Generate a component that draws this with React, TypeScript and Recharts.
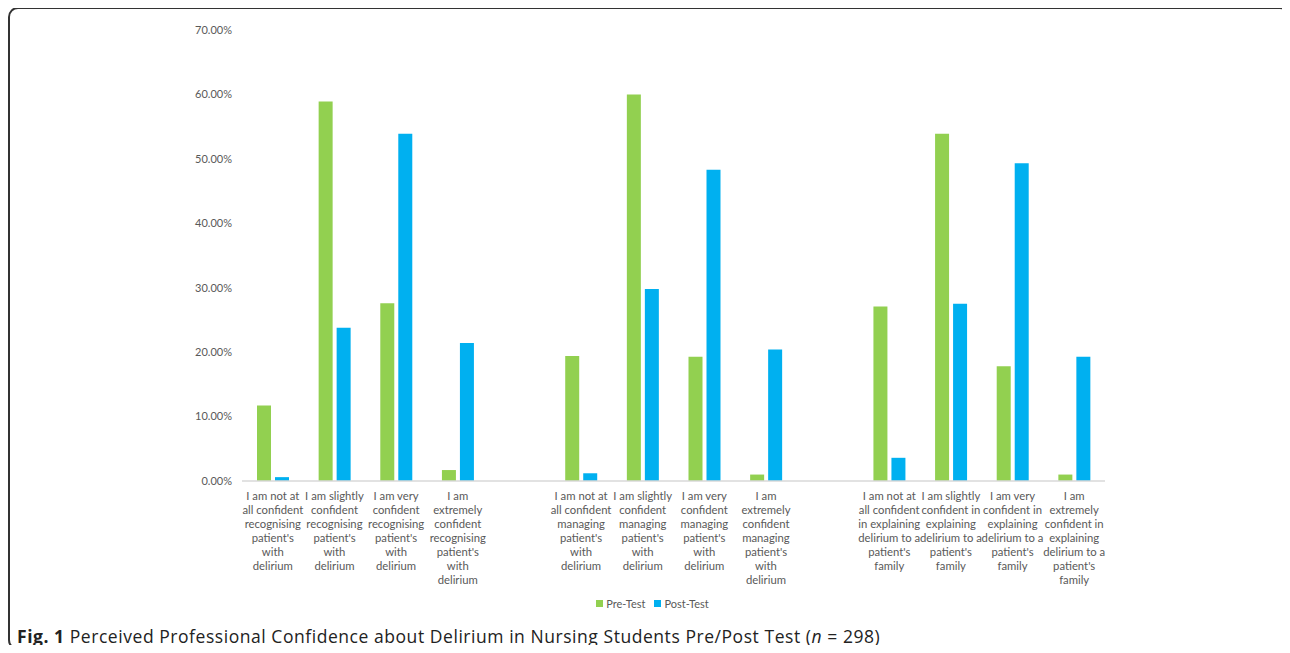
import { BarChart, Bar, XAxis, YAxis } from "recharts";

const tickLines: string[][] = [
  ["I am not at", "all confident", "recognising", "patient's", "with", "delirium"],
  ["I am slightly", "confident", "recognising", "patient's", "with", "delirium"],
  ["I am very", "confident", "recognising", "patient's", "with", "delirium"],
  ["I am", "extremely", "confident", "recognising", "patient's", "with", "delirium"],
  [],
  ["I am not at", "all confident", "managing", "patient's", "with", "delirium"],
  ["I am slightly", "confident", "managing", "patient's", "with", "delirium"],
  ["I am very", "confident", "managing", "patient's", "with", "delirium"],
  ["I am", "extremely", "confident", "managing", "patient's", "with", "delirium"],
  [],
  ["I am not at", "all confident", "in explaining", "delirium to a", "patient's", "family"],
  ["I am slightly", "confident in", "explaining", "delirium to a", "patient's", "family"],
  ["I am very", "confident in", "explaining", "delirium to a", "patient's", "family"],
  ["I am", "extremely", "confident in", "explaining", "delirium to a", "patient's", "family"],
];

const categories = tickLines.map((l, i) => (l.length ? l.join(" ") : `gap-${i}`));

const preTest = [0.117, 0.589, 0.276, 0.017, null, 0.194, 0.6, 0.193, 0.01, null, 0.271, 0.539, 0.178, 0.01];
const postTest = [0.006, 0.238, 0.539, 0.214, null, 0.012, 0.298, 0.483, 0.204, null, 0.036, 0.275, 0.493, 0.193];

const yTicks = [0, 0.1, 0.2, 0.3, 0.4, 0.5, 0.6, 0.7];

const series = [
  { key: "pre", label: "Pre-Test", color: "#92D050" },
  { key: "post", label: "Post-Test", color: "#00B0F0" },
];

const TEXT = "#595959";
const FONT = "Lato, 'Open Sans', sans-serif";

const data = categories.map((name, i) => ({
  name,
  pre: preTest[i],
  post: postTest[i],
}));

function CategoryTick(props: any) {
  const { x, y, index } = props;
  const lines = tickLines[index] || [];
  return (
    <text x={x} y={y} textAnchor="middle" fill={TEXT} fontSize={11.3} fontFamily={FONT}>
      {lines.map((line, i) => (
        <tspan key={i} x={x} dy={i === 0 ? 11 : 14}>
          {line}
        </tspan>
      ))}
    </text>
  );
}

function ChartLegend() {
  return (
    <div style={{ display: "flex", justifyContent: "center", fontFamily: FONT, fontSize: 11, color: TEXT }}>
      {series.map((s) => (
        <span key={s.key} style={{ display: "inline-flex", alignItems: "center", marginRight: 9 }}>
          <span style={{ width: 7, height: 7, background: s.color, marginRight: 3, display: "inline-block" }} />
          {s.label}
        </span>
      ))}
    </div>
  );
}

export default function App() {
  return (
    <div style={{ position: "relative", margin: -8, width: 1290, height: 653, overflow: "hidden", background: "#fff" }}>
      <div
        style={{
          position: "absolute",
          left: 8,
          top: 7,
          width: 1282,
          height: 643,
          border: "2px solid #333",
          borderRadius: 10,
          boxSizing: "border-box",
        }}
      />
      <div style={{ position: "absolute", left: 0, top: 0 }}>
        <BarChart
          width={1290}
          height={620}
          data={data}
          margin={{ top: 30, right: 185, left: 182, bottom: 39 }}
          barGap={4}
        >
          <YAxis
            width={60}
            domain={[0, 0.7]}
            ticks={yTicks}
            tickFormatter={(v) => `${(v * 100).toFixed(2)}%`}
            axisLine={false}
            tickLine={false}
            tickMargin={4}
            tick={{ fill: TEXT, fontSize: 11, fontFamily: FONT }}
          />
          <XAxis
            dataKey="name"
            height={100}
            interval={0}
            axisLine={{ stroke: "#D9D9D9", strokeWidth: 1.5 }}
            tickLine={false}
            tick={<CategoryTick />}
          />
          {series.map((s) => (
            <Bar
              key={s.key}
              dataKey={s.key}
              name={s.label}
              fill={s.color}
              barSize={14}
              isAnimationActive={false}
            />
          ))}
        </BarChart>
      </div>
      <div style={{ position: "absolute", left: 557, top: 597, width: 200 }}>
        <ChartLegend />
      </div>
      <div
        style={{
          position: "absolute",
          left: 17,
          top: 625,
          lineHeight: "22px",
          fontFamily: "'Open Sans', sans-serif",
          fontSize: 17.5,
          color: "#222",
          whiteSpace: "nowrap",
          letterSpacing: 0.55,
        }}
      >
        <b>Fig. 1</b> Perceived Professional Confidence about Delirium in Nursing Students Pre/Post Test (
        <i>n</i> = 298)
      </div>
    </div>
  );
}
